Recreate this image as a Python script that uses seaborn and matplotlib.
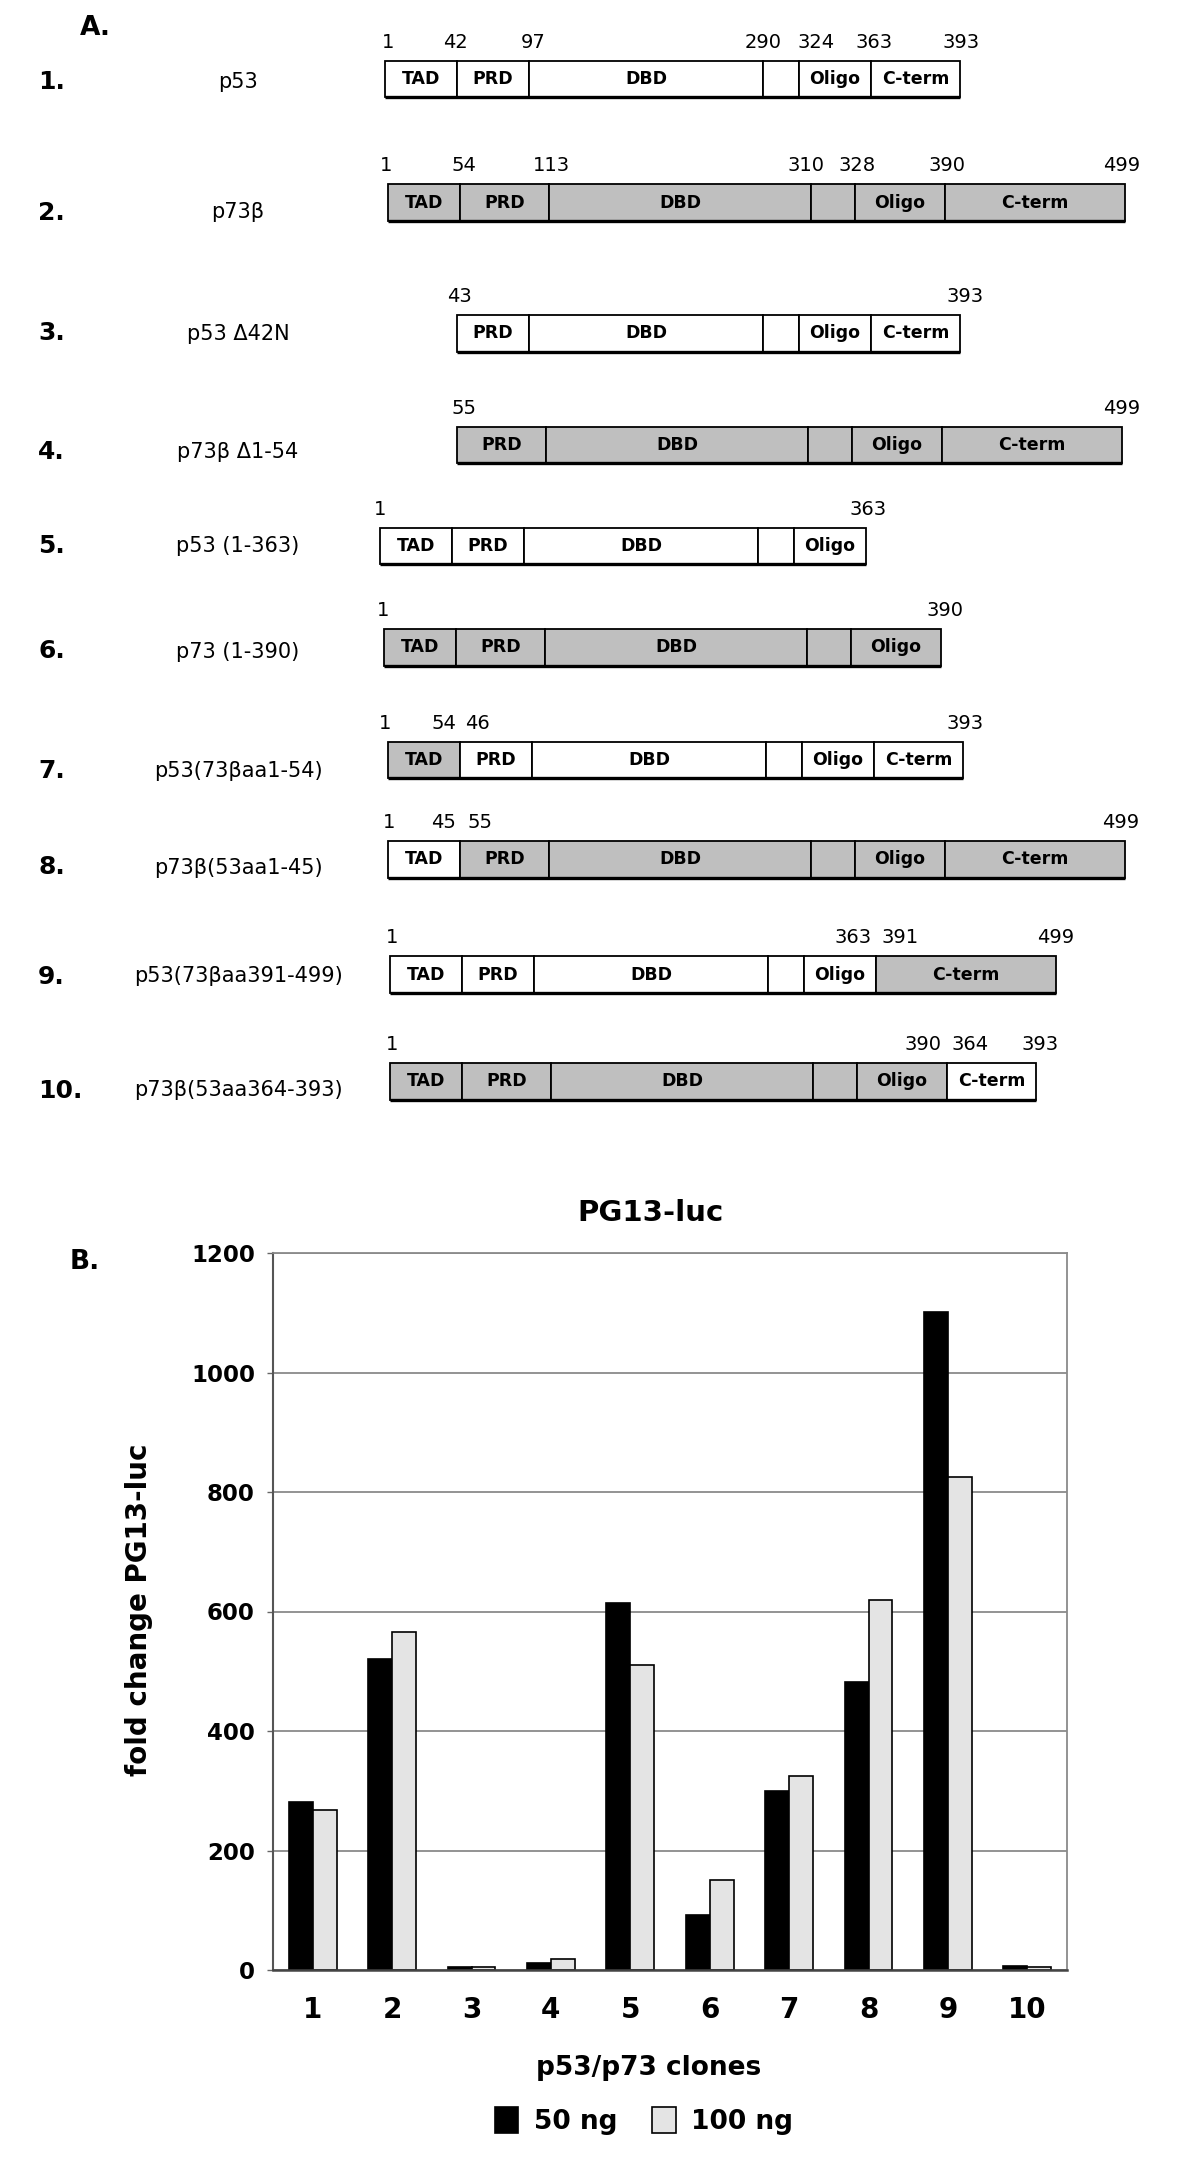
import matplotlib
matplotlib.use('Agg')
import pandas as pd
import seaborn as sns
import matplotlib.pyplot as plt

# ---- panel A: domain maps ----
domain_labels = ['TAD', 'PRD', 'DBD', '', 'Oligo', 'C-term']
p53_lengths = [72, 72, 234, 36, 72, 89]
p73_lengths = [72, 89, 262, 44, 90, 180]

construct_names = ['p53', 'p73β', 'p53 Δ42N', 'p73β Δ1-54', 'p53 (1-363)',
                   'p73 (1-390)', 'p53(73βaa1-54)', 'p73β(53aa1-45)',
                   'p53(73βaa391-499)', 'p73β(53aa364-393)']
# origin of each domain: 53 = p53, 73 = p73, 0 = deleted
construct_domains = [
    [53, 53, 53, 53, 53, 53],
    [73, 73, 73, 73, 73, 73],
    [0, 53, 53, 53, 53, 53],
    [0, 73, 73, 73, 73, 73],
    [53, 53, 53, 53, 53, 0],
    [73, 73, 73, 73, 73, 0],
    [73, 53, 53, 53, 53, 53],
    [53, 73, 73, 73, 73, 73],
    [53, 53, 53, 53, 53, 73],
    [73, 73, 73, 73, 73, 53],
]
residue_labels = [
    ['1', '42', '97', '290', '324', '363', '393'],
    ['1', '54', '113', '310', '328', '390', '499'],
    ['43', '393'],
    ['55', '499'],
    ['1', '363'],
    ['1', '390'],
    ['1', '54', '46', '393'],
    ['1', '45', '55', '499'],
    ['1', '363', '391', '499'],
    ['1', '390', '364', '393'],
]

# ---- panel B: PG13-luc reporter ----
clones = [str(i) for i in range(1, 11)]
fold_50ng = [281, 520, 5, 11, 614, 92, 299, 482, 1101, 7]
fold_100ng = [268, 566, 5, 18, 510, 151, 325, 619, 825, 5]

# layout of panel A (figure pixels)
row_x0 = [385, 388, 385, 385, 380, 384, 388, 388, 390, 390]
row_y = [79, 202.5, 333.5, 445, 546, 647.5, 760, 859.5, 974.5, 1081.5]
label_dy = [3, 10, 0, 7, 0, 4, 11, 8, 2, 9]
# (edge index, nudge) for each residue number
residue_anchor = [
    [(0, 3), (1, -2), (2, 4), (3, 0), (4, 17), (5, 3), (6, 1)],
    [(0, -2), (1, 4), (2, 2), (3, -5), (4, 2), (5, 2), (6, -3)],
    [(0, 2), (5, 5)],
    [(0, 7), (5, 0)],
    [(0, 0), (5, 2)],
    [(0, -1), (5, 4)],
    [(0, -3), (1, -16), (1, 17), (6, 2)],
    [(0, 1), (1, -16), (1, 20), (6, -4)],
    [(0, 2), (5, -23), (5, 24), (6, 0)],
    [(0, 2), (5, -24), (5, 23), (6, 4)],
]
box_h = 36.5
colors = {53: 'white', 73: '#bfbfbf'}

sns.set_style('white')
plt.rcParams['font.family'] = ['DejaVu Sans', 'Liberation Sans']
plt.rcParams['text.color'] = 'black'
plt.rcParams['xtick.color'] = 'black'
plt.rcParams['ytick.color'] = 'black'
plt.rcParams['axes.labelcolor'] = 'black'

W, H = 1200, 2181
fig = plt.figure(figsize=(W / 100, H / 100), dpi=100)
ax_a = fig.add_axes([0, 0, 1, 1])
ax_a.set_xlim(0, W)
ax_a.set_ylim(H, 0)
ax_a.axis('off')

ax_a.text(80, 28, 'A.', fontsize=19, fontweight='bold', ha='left', va='center')
ax_a.text(70, 1262, 'B.', fontsize=19, fontweight='bold', ha='left', va='center')

for i, name in enumerate(construct_names):
    yc = row_y[i]
    x = row_x0[i]
    edges = []
    for j, src in enumerate(construct_domains[i]):
        w = (p53_lengths if src != 73 else p73_lengths)[j]
        if src == 0:
            x += w
            continue
        if not edges:
            edges.append(x)
        ax_a.barh(yc, w, left=x, height=box_h, color=colors[src],
                  edgecolor='black', linewidth=1.3, zorder=2)
        if domain_labels[j]:
            ax_a.text(x + w / 2, yc, domain_labels[j], fontsize=12.5,
                      fontweight='bold', ha='center', va='center', zorder=3)
        x += w
        edges.append(x)
    ax_a.hlines(yc + box_h / 2, edges[0], edges[-1], color='black', lw=2.4, zorder=3)
    for txt, (k, dx) in zip(residue_labels[i], residue_anchor[i]):
        ax_a.text(edges[k] + dx, yc - box_h / 2 - 18.5, txt, fontsize=14,
                  ha='center', va='center')
    ax_a.text(38, yc + label_dy[i], f'{i + 1}.', fontsize=18, fontweight='bold',
              ha='left', va='center')
    ax_a.text(238, yc + label_dy[i], name, fontsize=15, ha='center', va='center')

# ---- panel B ----
df = pd.DataFrame({
    'clone': clones + clones,
    'fold': fold_50ng + fold_100ng,
    'dose': ['50 ng'] * len(clones) + ['100 ng'] * len(clones),
})
ax_b = fig.add_axes([273 / W, 1 - 1970 / H, 794 / W, 717 / H])
sns.barplot(data=df, x='clone', y='fold', hue='dose', palette=['black', '#e4e4e4'],
            saturation=1, edgecolor='black', linewidth=1.2, width=0.6, ax=ax_b)
ax_b.set_ylim(0, 1200)
ax_b.set_yticks(range(0, 1201, 200))
ax_b.set_xlabel('')
ax_b.set_ylabel('')
ax_b.yaxis.grid(True, color='#8a8a8a', lw=1.3)
ax_b.set_axisbelow(True)
for side in ['top', 'right']:
    ax_b.spines[side].set_color('#8a8a8a')
    ax_b.spines[side].set_linewidth(1.3)
ax_b.spines['left'].set_color('#555555')
ax_b.spines['left'].set_linewidth(1.5)
ax_b.spines['bottom'].set_color('#444444')
ax_b.spines['bottom'].set_linewidth(1.8)
ax_b.tick_params(axis='y', left=True, length=4, width=1, color='#666666', pad=9,
                 labelsize=16.5)
ax_b.tick_params(axis='x', bottom=False, length=0, pad=19, labelsize=20)
for lab in ax_b.get_xticklabels() + ax_b.get_yticklabels():
    lab.set_fontweight('bold')

ax_a.text(651, 1213, 'PG13-luc', fontsize=21, fontweight='bold', ha='center', va='center')
ax_a.text(139, 1610, 'fold change PG13-luc', fontsize=20, fontweight='bold',
          rotation=90, ha='center', va='center')
ax_a.text(649, 2068, 'p53/p73 clones', fontsize=19, fontweight='bold',
          ha='center', va='center')

sns.move_legend(ax_b, 'center', bbox_to_anchor=(644 / W, 1 - 2121 / H),
                bbox_transform=fig.transFigure, ncol=2, frameon=False, title=None,
                handlelength=0.9, handleheight=1.1, handletextpad=0.6,
                columnspacing=1.3, prop={'size': 19, 'weight': 'bold'})

fig.savefig('out.png', dpi=100)
